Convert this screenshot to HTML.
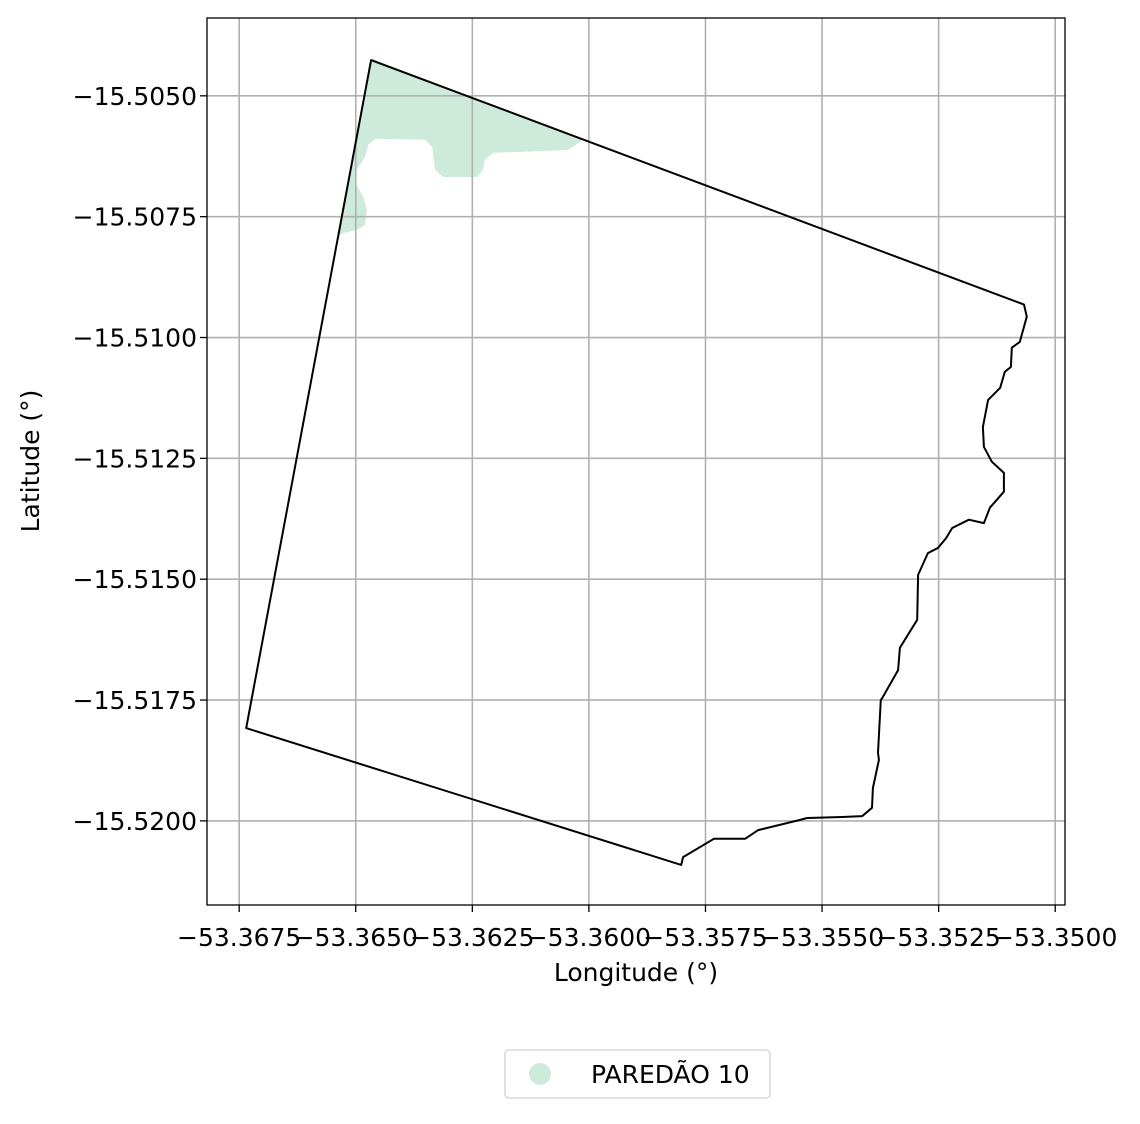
<!DOCTYPE html>
<html><head><meta charset="utf-8"><style>
body{margin:0;background:#fff;width:1140px;height:1119px;overflow:hidden}
svg text{font-family:"DejaVu Sans","Liberation Sans",sans-serif;font-size:25px;fill:#000}
</style></head><body>
<svg id="chart" width="1140" height="1119" xmlns="http://www.w3.org/2000/svg"></svg>
<script>
const xTicks=[-53.3675,-53.3650,-53.3625,-53.3600,-53.3575,-53.3550,-53.3525,-53.3500];
const yTicks=[-15.5050,-15.5075,-15.5100,-15.5125,-15.5150,-15.5175,-15.5200];
const xTickLabels=["−53.3675","−53.3650","−53.3625","−53.3600","−53.3575","−53.3550","−53.3525","−53.3500"];
const yTickLabels=["−15.5050","−15.5075","−15.5100","−15.5125","−15.5150","−15.5175","−15.5200"];
const boundaryLon=[-53.36467,-53.35067,-53.35061,-53.35076,-53.35093,-53.35095,-53.35108,-53.35118,-53.35144,-53.35155,-53.35153,-53.35136,-53.35110,-53.35110,-53.35140,-53.35153,-53.35185,-53.35221,-53.35234,-53.35251,-53.35273,-53.35294,-53.35296,-53.35333,-53.35337,-53.35371,-53.35374,-53.35380,-53.35378,-53.35391,-53.35393,-53.35414,-53.35457,-53.35532,-53.35547,-53.35637,-53.35665,-53.35732,-53.35798,-53.35802,-53.36735];
const boundaryLat=[-15.50426,-15.50932,-15.50957,-15.51009,-15.51021,-15.51061,-15.51071,-15.51104,-15.51129,-15.51185,-15.51226,-15.51257,-15.51280,-15.51319,-15.51352,-15.51384,-15.51377,-15.51394,-15.51415,-15.51435,-15.51446,-15.51491,-15.51584,-15.51642,-15.51688,-15.51746,-15.51750,-15.51859,-15.51874,-15.51932,-15.51973,-15.51990,-15.51992,-15.51994,-15.51998,-15.52019,-15.52037,-15.52037,-15.52075,-15.52091,-15.51808];
const zoneLon=[-53.36465,-53.36012,-53.36045,-53.36205,-53.36223,-53.36227,-53.36240,-53.36313,-53.36330,-53.36336,-53.36351,-53.36458,-53.36473,-53.36480,-53.36501,-53.36501,-53.36484,-53.36476,-53.36480,-53.36497,-53.36527,-53.36538];
const zoneLat=[-15.50423,-15.50591,-15.50612,-15.50618,-15.50632,-15.50653,-15.50668,-15.50668,-15.50653,-15.50606,-15.50591,-15.50589,-15.50601,-15.50626,-15.50657,-15.50680,-15.50709,-15.50736,-15.50767,-15.50777,-15.50784,-15.50792];
const legendLabels=["PAREDÃO 10"];

const L=207,R=1065,T=18,B=905;
const xMin=-53.36819,xMax=-53.34979,yMax=-15.50339,yMin=-15.52174;
const sx=v=>L+(v-xMin)/(xMax-xMin)*(R-L);
const sy=v=>T+(yMax-v)/(yMax-yMin)*(B-T);
const svg=document.getElementById('chart');
const NS='http://www.w3.org/2000/svg';
function mk(tag,attrs,parent){const e=document.createElementNS(NS,tag);for(const k in attrs)e.setAttribute(k,attrs[k]);(parent||svg).appendChild(e);return e;}

let zp=zoneLon.map((v,i)=>sx(v).toFixed(1)+','+sy(zoneLat[i]).toFixed(1)).join(' ');
const zone=mk('polygon',{points:zp,fill:'#cdeadb',stroke:'none'});



xTicks.forEach((v,i)=>{
  const g=mk('line',{x1:sx(v),x2:sx(v),y1:T,y2:B,stroke:'#b0b0b0','stroke-width':1.6});
  
  
  const t=mk('line',{x1:sx(v),x2:sx(v),y1:B,y2:B+7,stroke:'#000','stroke-width':1.3});
  
  
  const lb=mk('text',{x:sx(v),y:B+41,'text-anchor':'middle'});lb.textContent=xTickLabels[i];
  
  
});
yTicks.forEach((v,i)=>{
  const g=mk('line',{x1:L,x2:R,y1:sy(v),y2:sy(v),stroke:'#b0b0b0','stroke-width':1.6});
  
  
  const t=mk('line',{x1:L-7,x2:L,y1:sy(v),y2:sy(v),stroke:'#000','stroke-width':1.3});
  
  
  const lb=mk('text',{x:L-10,y:sy(v)+9,'text-anchor':'end'});lb.textContent=yTickLabels[i];
  
  
});

let bp=boundaryLon.map((v,i)=>sx(v).toFixed(1)+','+sy(boundaryLat[i]).toFixed(1)).join(' ');
const bd=mk('polygon',{points:bp,fill:'none',stroke:'#000','stroke-width':2,'stroke-linejoin':'round'});



const fr=mk('rect',{x:L,y:T,width:R-L,height:B-T,fill:'none',stroke:'#000','stroke-width':1.3});



const xt=mk('text',{x:636,y:981,'text-anchor':'middle'});xt.textContent='Longitude (°)';


const yt=mk('text',{x:0,y:0,'text-anchor':'middle',transform:'translate(39,461) rotate(-90)'});yt.textContent='Latitude (°)';



const lg=mk('g',{});


const lbx=mk('rect',{x:505,y:1050,width:265,height:48,rx:4,fill:'#fff',stroke:'#d0d0d0','stroke-width':1.3},lg);


const lc=mk('circle',{cx:540,cy:1074,r:11,fill:'#cdeadb'},lg);


const lt=mk('text',{x:591,y:1083},lg);lt.textContent=legendLabels[0];


</script>
</body></html>
